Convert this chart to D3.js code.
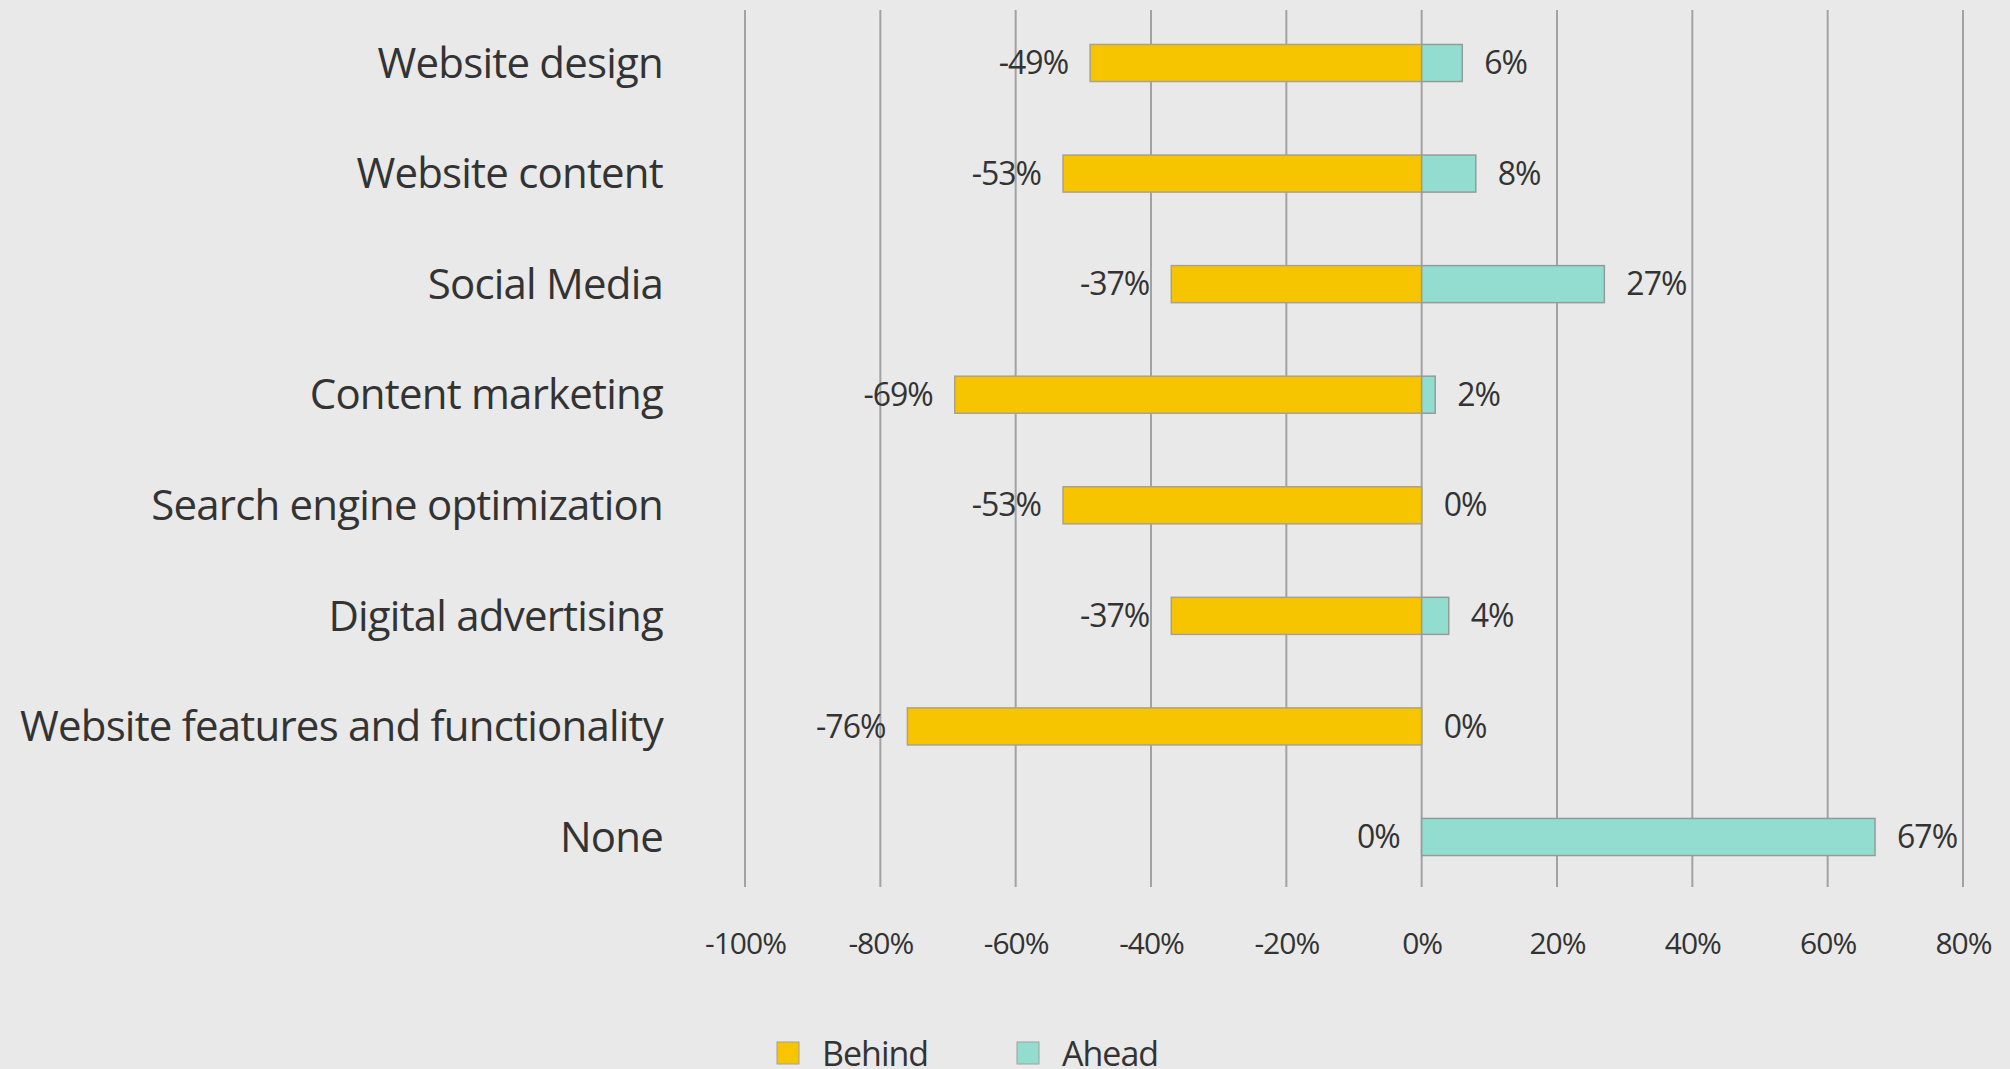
<!DOCTYPE html>
<html>
<head>
<meta charset="utf-8">
<script src="https://cdn.jsdelivr.net/npm/d3@7/dist/d3.min.js"></script>
<style>
  html, body { margin: 0; padding: 0; background: #e9e9e9; }
  svg { display: block; }
  text { font-family: "Open Sans", Lato, sans-serif; fill: #333; }
</style>
</head>
<body>
<svg id="chart" width="2010" height="1069"></svg>
<script>
// Survey categories, top to bottom
const categories = [
  "Website design",
  "Website content",
  "Social Media",
  "Content marketing",
  "Search engine optimization",
  "Digital advertising",
  "Website features and functionality",
  "None"
];
// Share of respondents who feel behind (negative) / ahead (positive), in %
const behind = [-49, -53, -37, -69, -53, -37, -76, 0];
const ahead  = [6, 8, 27, 2, 0, 4, 0, 67];
const tickValues = [-100, -80, -60, -40, -20, 0, 20, 40, 60, 80];
const seriesNames = ["Behind", "Ahead"];

const W = 2010, H = 1069;
const margin = { left: 745, right: 47, top: 8, bottom: 177 };
const colors = { Behind: "#f7c500", Ahead: "#93ddd0" };

const svg = d3.select("#chart");

const x = d3.scaleLinear()
  .domain([-100, 80])
  .range([margin.left, W - margin.right]);

const y = d3.scaleBand()
  .domain(categories)
  .range([margin.top, H - margin.bottom])
  .paddingInner(0.665)
  .paddingOuter(0.33);

// Vertical gridlines
svg.append("g")
  .selectAll("line")
  .data(tickValues)
  .join("line")
  .attr("x1", d => x(d)).attr("x2", d => x(d))
  .attr("y1", margin.top + 2).attr("y2", H - margin.bottom - 5)
  .attr("stroke", "#a2a2a2")
  .attr("stroke-width", 2);

// X axis tick labels
const xAxis = d3.axisBottom(x)
  .tickValues(tickValues)
  .tickFormat(d => d + "%")
  .tickSize(0)
  .tickPadding(0);
const gx = svg.append("g")
  .attr("transform", `translate(0, ${H - margin.bottom + 51})`)
  .call(xAxis);
gx.select(".domain").remove();
gx.selectAll("text")
  .attr("font-size", 30)
  .attr("dy", "0.35em")
  .style("font-family", "'Open Sans', sans-serif")
  .style("letter-spacing", "-1px")
  .attr("fill", "#333");

// Category labels
const yAxis = d3.axisLeft(y).tickSize(0).tickPadding(0);
const gy = svg.append("g")
  .attr("transform", `translate(663, 0)`)
  .call(yAxis);
gy.select(".domain").remove();
gy.selectAll("text")
  .attr("font-size", 42)
  .attr("dy", "0.35em")
  .style("letter-spacing", "-0.8px")
  .attr("fill", "#333");

// Bars
const rows = categories.map((c, i) => ({ cat: c, behind: behind[i], ahead: ahead[i] }));

svg.append("g")
  .selectAll("rect")
  .data(rows)
  .join("rect")
  .attr("x", d => x(d.behind))
  .attr("y", d => y(d.cat))
  .attr("width", d => x(0) - x(d.behind))
  .attr("height", y.bandwidth())
  .attr("fill", colors.Behind)
  .attr("stroke", "#a9a290")
  .attr("stroke-width", 1.5);

svg.append("g")
  .selectAll("rect")
  .data(rows)
  .join("rect")
  .attr("x", x(0))
  .attr("y", d => y(d.cat))
  .attr("width", d => x(d.ahead) - x(0))
  .attr("height", y.bandwidth())
  .attr("fill", colors.Ahead)
  .attr("stroke", "#949c9a")
  .attr("stroke-width", 1.5);

// Value labels
const labelSize = 32;
svg.append("g")
  .selectAll("text")
  .data(rows)
  .join("text")
  .attr("x", d => x(d.behind) - 22)
  .attr("y", d => y(d.cat) + y.bandwidth() / 2)
  .attr("dy", "0.35em")
  .attr("text-anchor", "end")
  .attr("font-size", labelSize)
  .style("letter-spacing", "-1px")
  .text(d => d.behind + "%");

svg.append("g")
  .selectAll("text")
  .data(rows)
  .join("text")
  .attr("x", d => x(d.ahead) + 22)
  .attr("y", d => y(d.cat) + y.bandwidth() / 2)
  .attr("dy", "0.35em")
  .attr("text-anchor", "start")
  .attr("font-size", labelSize)
  .style("letter-spacing", "-1px")
  .text(d => d.ahead + "%");

// Legend
const legendX = [777, 1017];
const legend = svg.append("g")
  .selectAll("g")
  .data(seriesNames)
  .join("g")
  .attr("transform", (d, i) => `translate(${legendX[i]}, 1042)`);
legend.append("rect")
  .attr("width", 22).attr("height", 22)
  .attr("fill", d => colors[d])
  .attr("stroke", "#a0a0a0")
  .attr("stroke-width", 1);
legend.append("text")
  .attr("x", 45)
  .attr("y", 24)
  .attr("font-size", 34)
  .style("letter-spacing", "-1px")
  .text(d => d);
</script>
</body>
</html>
